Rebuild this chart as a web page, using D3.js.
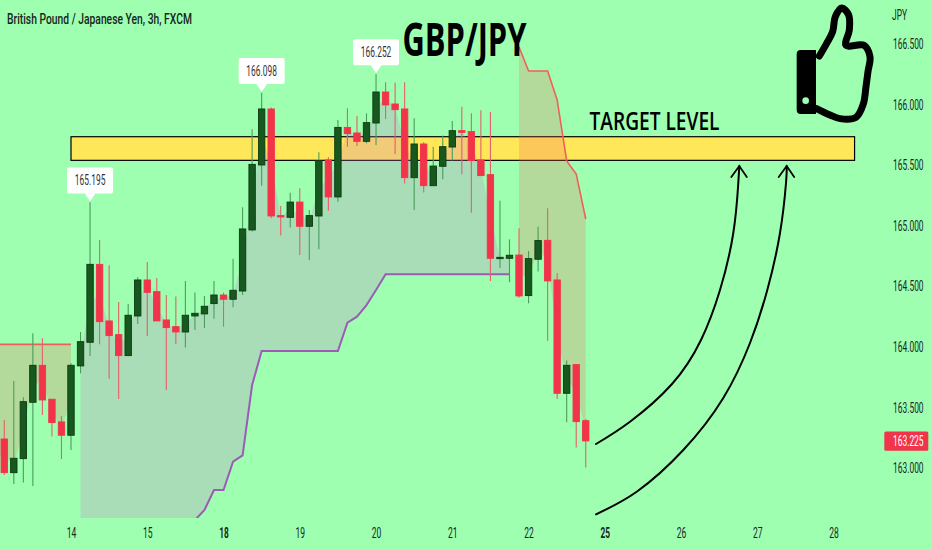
<!DOCTYPE html>
<html>
<head>
<meta charset="utf-8">
<script src="https://cdn.jsdelivr.net/npm/d3@7/dist/d3.min.js"></script>
<style>
html,body{margin:0;padding:0;background:#9EFFB1;overflow:hidden}
svg{display:block}
text{font-family:Roboto,"Liberation Sans",sans-serif}
</style>
</head>
<body>
<svg id="chart" width="932" height="550"></svg>
<script>
// ---- data ----
const symbolTitle = "British Pound / Japanese Yen, 3h, FXCM";
const chartTitle = "GBP/JPY";
const targetLabel = "TARGET LEVEL";
const currency = "JPY";
const lastPrice = 163.225;
const priceTicks = [166.5,166,165.5,165,164.5,164,163.5,163];
const dateTicks = [7,15,23,31,39,47,55,63,71,79,87];
const dateLabels = ["14","15","18","19","20","21","22","25","26","27","28"];
const boldDates = ["18","25"];

const opens = [163.241,162.963,163.079,163.544,163.849,163.569,163.382,163.272,163.844,164.039,
164.682,164.215,164.102,163.929,164.256,164.553,164.457,164.223,164.168,164.124,
164.256,164.273,164.358,164.429,164.394,164.462,164.966,165.502,165.964,165.084,
165.070,165.196,164.996,165.081,165.543,165.238,165.812,165.766,165.697,165.848,
166.104,166.005,165.964,165.397,165.675,165.331,165.491,165.650,165.785,165.777,
165.543,165.422,164.729,164.732,164.759,164.424,164.724,164.880,164.553,163.618,
163.855,163.392];
const highs = [163.398,163.720,163.585,164.113,164.072,163.569,163.431,163.865,164.124,165.195,
164.883,164.674,164.372,164.355,164.575,164.702,164.570,164.429,164.416,164.545,
164.449,164.421,164.545,164.449,164.729,165.153,165.796,166.098,165.977,165.164,
165.273,165.309,165.131,165.606,165.565,165.873,165.969,165.906,165.928,166.252,
166.184,166.181,166.184,165.887,165.689,165.653,165.746,165.865,165.983,165.928,
165.953,165.939,165.207,164.888,164.979,164.792,164.993,165.144,164.608,163.888,
163.855,163.406];
const lows = [162.944,162.870,162.881,162.854,163.439,163.261,163.076,163.150,163.783,163.926,
164.022,163.739,163.571,163.929,164.190,164.091,164.215,163.646,164.022,163.995,
164.141,164.157,164.234,164.168,164.328,164.429,164.952,165.331,165.062,164.919,
164.985,164.759,164.718,164.806,165.125,165.199,165.653,165.658,165.680,165.667,
165.881,165.592,165.350,165.130,165.274,165.331,165.384,165.538,165.425,165.108,
165.414,164.545,164.652,164.534,164.407,164.360,164.622,164.052,163.571,163.379,
163.170,163.005];
const closes = [162.963,163.082,163.549,163.849,163.563,163.376,163.272,163.849,164.044,164.682,
164.209,164.094,163.929,164.262,164.553,164.451,164.215,164.160,164.124,164.262,
164.278,164.336,164.429,164.394,164.468,164.974,165.507,165.964,165.081,165.073,
165.196,164.996,165.084,165.538,165.238,165.812,165.760,165.697,165.851,166.104,
165.997,165.958,165.397,165.675,165.331,165.493,165.653,165.785,165.771,165.538,
165.414,164.732,164.740,164.757,164.421,164.729,164.878,164.545,163.618,163.849,
163.384,163.225];

// supertrend: lower band (candles 8..53), upper band (-1..7 and 54..61)
const lowerBandStart = 8;
const lowerBand = [162.10,162.10,162.15,162.15,162.20,162.25,162.25,162.30,162.35,162.40,162.45,162.50,
162.572,162.655,162.820,162.820,163.054,163.106,163.686,163.967,163.967,163.967,163.967,163.967,163.967,
163.967,163.967,163.967,164.200,164.250,164.346,164.470,164.600,164.600,164.600,164.600,164.600,164.600,
164.600,164.600,164.600,164.600,164.600,164.600,164.600,164.600];
const upperBandLeftStart = -1;
const upperBandLeft = [164.022,164.022,164.022,164.022,164.022,164.022,164.022,164.022,164.022];
const upperBandRightStart = 54;
const upperBandRight = [166.475,166.277,166.277,166.277,166.038,165.535,165.427,165.056];

const callouts = [[9,"165.195"],[27,"166.098"],[39,"166.252"]];
const zone = {fromIdx:7, toIdx:89.2, top:165.735, bottom:165.540};

// ---- scales ----
const x = d3.scaleLinear().domain([7,87]).range([71,833.6]);
const y = d3.scaleLinear().domain([163,166.5]).range([468.2,44]);
const svg = d3.select("#chart");
const BG = "#9EFFB1", RED = "#F2344A", GREEN = "#17581F", TXT = "#16291F";

// squeeze a text horizontally about its anchor point to the wanted width
function squeeze(sel,width){
  sel.each(function(){
    const w=this.getComputedTextLength(), s=width/w, ax=+this.getAttribute("x")||0;
    this.setAttribute("transform",`translate(${ax},0) scale(${s},1) translate(${-ax},0)`);
  });
  return sel;
}

svg.append("rect").attr("width",932).attr("height",550).attr("fill",BG);
const defs = svg.append("defs");
defs.append("clipPath").attr("id","plot").append("rect").attr("width",884).attr("height",518);

// ---- zone ----
svg.append("rect").attr("x",x(zone.fromIdx)).attr("y",y(zone.top))
  .attr("width",x(zone.toIdx)-x(zone.fromIdx)).attr("height",y(zone.bottom)-y(zone.top))
  .attr("fill","#FFE75A").attr("stroke","#000").attr("stroke-width",1.2);

// ---- supertrend fills and lines ----
const plot = svg.append("g").attr("clip-path","url(#plot)");
const mid = i => { const k=Math.max(i,0); return (opens[k]+closes[k])/2; };
function band(values,start,fill,stroke,sw){
  const pts = values.map((v,k)=>({i:start+k,v}));
  plot.append("path").datum(pts)
    .attr("d",d3.area().x(d=>x(d.i)).y0(d=>y(d.v)).y1(d=>y(mid(d.i))))
    .attr("fill",fill);
  plot.append("path").datum(pts)
    .attr("d",d3.line().x(d=>x(d.i)).y(d=>y(d.v)))
    .attr("fill","none").attr("stroke",stroke).attr("stroke-width",sw);
}
band(lowerBand,lowerBandStart,"rgba(201,120,208,.25)","#9C5BB5",2);
band(upperBandLeft,upperBandLeftStart,"rgba(245,106,92,.25)","#F0605A",1.6);
band(upperBandRight,upperBandRightStart,"rgba(245,106,92,.25)","#F0605A",1.6);

// ---- candles ----
const candles = opens.map((o,i)=>({i,o,h:highs[i],l:lows[i],c:closes[i],up:closes[i]>=o}));
const cg = plot.append("g");
cg.selectAll("line").data(candles).join("line")
  .attr("x1",d=>x(d.i)).attr("x2",d=>x(d.i))
  .attr("y1",d=>y(d.h)).attr("y2",d=>y(d.l))
  .attr("stroke",d=>d.up?"#4C9C5E":"#E4606C").attr("stroke-width",1.1);
cg.selectAll("rect").data(candles).join("rect")
  .attr("x",d=>x(d.i)-3.2).attr("width",6.4)
  .attr("y",d=>y(Math.max(d.o,d.c)))
  .attr("height",d=>Math.max(1,Math.abs(y(d.o)-y(d.c))))
  .attr("fill",d=>d.up?GREEN:RED)
  .attr("stroke",d=>d.up?"#0B3A12":RED).attr("stroke-width",0.9);

// ---- callouts ----
const cal = svg.append("g").selectAll("g").data(callouts).join("g")
  .attr("transform",d=>`translate(${x(d[0])},${y(+d[1])})`);
cal.append("path").attr("d","M-5.5,-9L0,-1L5.5,-9Z").attr("fill","#fff");
cal.append("rect").attr("x",-23).attr("y",-34.7).attr("width",46).attr("height",26).attr("rx",2).attr("fill","#fff");
squeeze(cal.append("text").attr("y",-17).attr("text-anchor","middle").attr("font-size",14)
  .attr("fill","#333").text(d=>d[1]),30.6);

// ---- axes ----
const yAxis = d3.axisRight(y).tickValues(priceTicks).tickSize(0).tickFormat(d3.format(".3f"));
const ya = svg.append("g").attr("transform","translate(893,0)").call(yAxis);
ya.select(".domain").remove();
squeeze(ya.selectAll("text").attr("x",0).attr("font-size",14).attr("fill",TXT).attr("font-family","Roboto"),30.6);

const xAxis = d3.axisBottom(x).tickValues(dateTicks).tickSize(0).tickFormat((d,k)=>dateLabels[k]);
const xa = svg.append("g").attr("transform","translate(0,523)").call(xAxis);
xa.select(".domain").remove();
squeeze(xa.selectAll("text").attr("x",0).attr("y",5).attr("font-size",14).attr("fill",TXT)
  .attr("font-family","Roboto")
  .attr("font-weight",function(d,k){return boldDates.includes(dateLabels[k])?700:400;}),9.6);

squeeze(svg.append("text").attr("x",892).attr("y",20).attr("font-size",14).attr("fill",TXT).text(currency),15);

// last price tag
svg.append("rect").attr("x",884.3).attr("y",y(lastPrice)-9.5).attr("width",44).attr("height",19.4)
  .attr("rx",1.5).attr("fill","#F0344A");
squeeze(svg.append("text").attr("x",893).attr("y",y(lastPrice)+5.2).attr("font-size",14).attr("fill","#fff")
  .text(lastPrice.toFixed(3)),30.6);

// ---- titles ----
squeeze(svg.append("text").attr("x",7).attr("y",24).attr("font-size",14.5).attr("font-weight",500).attr("fill","#16261E")
  .text(symbolTitle),185);
squeeze(svg.append("text").attr("x",402.5).attr("y",56).attr("font-size",46).attr("font-weight",700).attr("fill","#000")
  .style("font-family","'Open Sans'").text(chartTitle),124);
squeeze(svg.append("text").attr("x",589.5).attr("y",130).attr("font-size",25).attr("font-weight",600).attr("fill","#000")
  .style("font-family","'Open Sans'").text(targetLabel),130);

// ---- hand-drawn arrows ----
const curve = d3.line().curve(d3.curveNatural);
const arrows = [
  [[596,444],[630,421.7],[672,384],[701,340],[720,290],[733.3,233],[738.3,183],[739.3,166]],
  [[596,514.3],[636.7,491.7],[683.3,450],[723.3,398],[750,343],[767.3,290],[780,233],[786,183],[786.7,166]]
];
const ag = svg.append("g").attr("fill","none").attr("stroke","#000").attr("stroke-linecap","round");
arrows.forEach(a=>{
  ag.append("path").attr("d",curve(a)).attr("stroke-width",2);
  const t=a[a.length-1];
  ag.append("path").attr("d",`M${t[0]-8},${t[1]+11}L${t[0]},${t[1]}L${t[0]+7.5},${t[1]+11}`).attr("stroke-width",1.8);
});

// ---- thumbs-up ----
const th = svg.append("g").attr("transform","translate(780,0) scale(0.3333)");
const handOutline = [[118,168],[140,130],[158,95],[166,50],[185,24],[206,45],[208,90],[198,136],[252,136],[270,170],[264,215],[258,260],[250,312],[228,352],[180,356],[150,345],[108,325]];
th.append("path").attr("d",d3.line().curve(d3.curveCatmullRom.alpha(0.5))(handOutline))
  .attr("fill","none").attr("stroke","#000").attr("stroke-width",21).attr("stroke-linejoin","round").attr("stroke-linecap","round");
th.append("path").attr("d","M62,150 L108,150 L108,342 L62,342 Q50,342 50,330 L50,162 Q50,150 62,150 Z").attr("fill","#000");
th.append("circle").attr("cx",77).attr("cy",302).attr("r",10).attr("fill",BG);
</script>
</body>
</html>
